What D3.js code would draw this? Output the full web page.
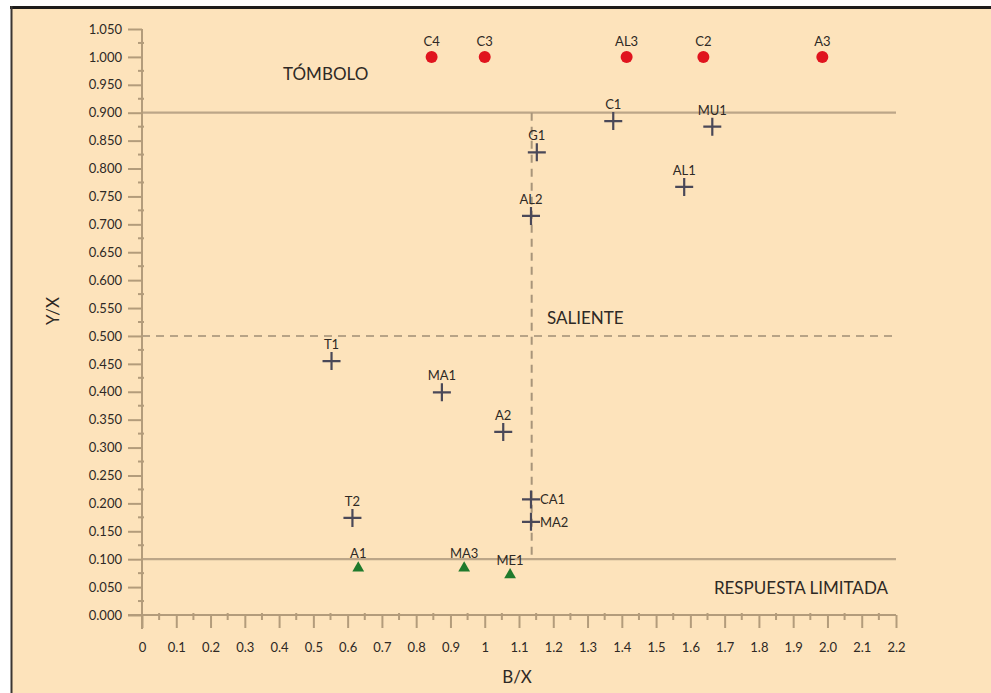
<!DOCTYPE html>
<html>
<head>
<meta charset="utf-8">
<script src="https://cdn.jsdelivr.net/npm/d3@7"></script>
<style>
  html, body { margin: 0; padding: 0; background: #ffffff; }
  svg { display: block; }
  text { font-family: "Lato", "Open Sans", sans-serif; fill: #2e2925; }
</style>
</head>
<body>
<script>
// Relative breakwater response: B/X vs Y/X
const tomboloNames = ["C4", "C3", "AL3", "C2", "A3"];
const tomboloBX    = [0.845, 1.0, 1.414, 1.638, 1.985];
const tomboloYX    = [1.0, 1.0, 1.0, 1.0, 1.0];

const salienteNames = ["C1", "MU1", "G1", "AL1", "AL2", "T1", "MA1", "A2", "CA1", "T2", "MA2"];
const salienteBX    = [1.375, 1.664, 1.152, 1.582, 1.135, 0.553, 0.875, 1.054, 1.135, 0.614, 1.135];
const salienteYX    = [0.885, 0.875, 0.829, 0.767, 0.715, 0.455, 0.399, 0.328, 0.207, 0.174, 0.167];
const salienteLabelSide = ["top", "top", "top", "top", "top", "top", "top", "top", "right", "top", "right"];

const limitedNames = ["A1", "MA3", "ME1"];
const limitedBX    = [0.631, 0.94, 1.074];
const limitedYX    = [0.084, 0.084, 0.072];

const xTicks = [0, 0.1, 0.2, 0.3, 0.4, 0.5, 0.6, 0.7, 0.8, 0.9, 1, 1.1, 1.2, 1.3, 1.4, 1.5, 1.6, 1.7, 1.8, 1.9, 2.0, 2.1, 2.2];
const xTickLabels = ["0", "0.1", "0.2", "0.3", "0.4", "0.5", "0.6", "0.7", "0.8", "0.9", "1", "1.1", "1.2", "1.3", "1.4", "1.5", "1.6", "1.7", "1.8", "1.9", "2.0", "2.1", "2.2"];
const yTicks = d3.range(0, 22).map(i => +(i * 0.05).toFixed(3));

// Threshold lines
const solidThresholds = [0.9, 0.1];
const dashedThresholdY = 0.5;
const dashedThresholdX = 1.137;

const regionLabels = ["TÓMBOLO", "SALIENTE", "RESPUESTA LIMITADA"];

const W = 991, H = 693;
const svg = d3.select("body").append("svg").attr("width", W).attr("height", H);

// Panel background and frame
svg.append("rect").attr("x", 11).attr("y", 7).attr("width", W - 11).attr("height", H - 7).attr("fill", "#fde3bb");
svg.append("line").attr("x1", 10).attr("x2", W).attr("y1", 7.5).attr("y2", 7.5).attr("stroke", "#1e1c1b").attr("stroke-width", 3);
svg.append("line").attr("x1", 11.5).attr("x2", 11.5).attr("y1", 6).attr("y2", H).attr("stroke", "#3a3633").attr("stroke-width", 2);

const x = d3.scaleLinear().domain([0, 2.2]).range([142, 896]);
const y = d3.scaleLinear().domain([0, 1.05]).range([615, 29]);

const axisColor = "#b39c7b";
const lineColor = "#bca688";

// Threshold lines
const g = svg.append("g");
solidThresholds.forEach(v => {
  g.append("line").attr("x1", x(0)).attr("x2", x(2.2)).attr("y1", y(v)).attr("y2", y(v))
    .attr("stroke", lineColor).attr("stroke-width", 2.2);
});
g.append("line").attr("x1", x(0)).attr("x2", x(2.2)).attr("y1", y(dashedThresholdY)).attr("y2", y(dashedThresholdY))
  .attr("stroke", "#b7a386").attr("stroke-width", 2).attr("stroke-dasharray", "8,6");
g.append("line").attr("x1", x(dashedThresholdX)).attr("x2", x(dashedThresholdX)).attr("y1", y(0.9)).attr("y2", y(0.1))
  .attr("stroke", "#a8957a").attr("stroke-width", 2).attr("stroke-dasharray", "8,6");

// Y axis
const yAxis = d3.axisLeft(y).tickValues(yTicks).tickFormat(d3.format(".3f")).tickSize(14).tickPadding(6);
const ya = svg.append("g").attr("transform", `translate(${x(0)},0)`).call(yAxis);
ya.select(".domain").attr("stroke", axisColor).attr("stroke-width", 2).attr("d", `M0,${y(1.05)}V${y(0) + 14}`);
ya.selectAll(".tick line").attr("stroke", axisColor).attr("stroke-width", 2);
ya.selectAll(".tick text").attr("font-size", 13).style("font-family", "Lato, 'Open Sans', sans-serif").attr("fill", "#2e2925");
const yMinor = d3.range(0, 21).map(i => i * 0.05 + 0.025);
ya.selectAll(".minor").data(yMinor).join("line").attr("class", "minor")
  .attr("x1", -4).attr("x2", 2).attr("y1", d => y(d)).attr("y2", d => y(d))
  .attr("stroke", axisColor).attr("stroke-width", 2);

// X axis
const xAxis = d3.axisBottom(x).tickValues(xTicks).tickFormat((d, i) => xTickLabels[i]).tickSize(13).tickPadding(15);
const xa = svg.append("g").attr("transform", `translate(0,${y(0)})`).call(xAxis);
xa.select(".domain").attr("stroke", axisColor).attr("stroke-width", 2).attr("d", `M${x(0) - 14},0H${x(2.2)}`);
xa.selectAll(".tick line").attr("stroke", axisColor).attr("stroke-width", 2);
xa.selectAll(".tick text").attr("font-size", 13).style("font-family", "Lato, 'Open Sans', sans-serif").attr("fill", "#2e2925");
const xMinor = d3.range(0, 22).map(i => i * 0.1 + 0.05);
xa.selectAll(".minor").data(xMinor).join("line").attr("class", "minor")
  .attr("x1", d => x(d)).attr("x2", d => x(d)).attr("y1", -2).attr("y2", 5)
  .attr("stroke", axisColor).attr("stroke-width", 2);

// Axis titles
svg.append("text").attr("x", 517).attr("y", 683).attr("text-anchor", "middle").attr("font-size", 17).text("B/X");
svg.append("text").attr("transform", "translate(59,311) rotate(-90)").attr("text-anchor", "middle").attr("font-size", 17).text("Y/X");

// Region labels
svg.append("text").attr("x", 283).attr("y", 80).attr("font-size", 17).text(regionLabels[0]);
svg.append("text").attr("x", 547).attr("y", 324).attr("font-size", 17).text(regionLabels[1]);
svg.append("text").attr("x", 888).attr("y", 594).attr("text-anchor", "end").attr("font-size", 17).text(regionLabels[2]);

// Tómbolo: red circles
const tombolo = tomboloNames.map((n, i) => ({ n, bx: tomboloBX[i], yx: tomboloYX[i] }));
const tg = svg.append("g").selectAll("g").data(tombolo).join("g")
  .attr("transform", d => `translate(${x(d.bx)},${y(d.yx)})`);
tg.append("circle").attr("r", 6).attr("fill", "#e0141e");
tg.append("text").attr("y", -11).attr("text-anchor", "middle").attr("font-size", 13).text(d => d.n);

// Saliente: crosses
const saliente = salienteNames.map((n, i) => ({ n, bx: salienteBX[i], yx: salienteYX[i], side: salienteLabelSide[i] }));
const sg = svg.append("g").selectAll("g").data(saliente).join("g")
  .attr("transform", d => `translate(${x(d.bx)},${y(d.yx)})`);
sg.append("path").attr("d", "M-9,0H9M0,-9V9").attr("stroke", "#4a4858").attr("stroke-width", 2.2);
sg.append("text")
  .attr("x", d => d.side === "right" ? 9 : 0)
  .attr("y", d => d.side === "right" ? 5 : -12)
  .attr("text-anchor", d => d.side === "right" ? "start" : "middle")
  .attr("font-size", 13).text(d => d.n);

// Respuesta limitada: green triangles
const limited = limitedNames.map((n, i) => ({ n, bx: limitedBX[i], yx: limitedYX[i] }));
const lg = svg.append("g").selectAll("g").data(limited).join("g")
  .attr("transform", d => `translate(${x(d.bx)},${y(d.yx)})`);
lg.append("path").attr("d", d3.symbol(d3.symbolTriangle, 60)).attr("fill", "#1f7a2c");
lg.append("text").attr("y", -10).attr("text-anchor", "middle").attr("font-size", 13).text(d => d.n);
</script>
</body>
</html>
